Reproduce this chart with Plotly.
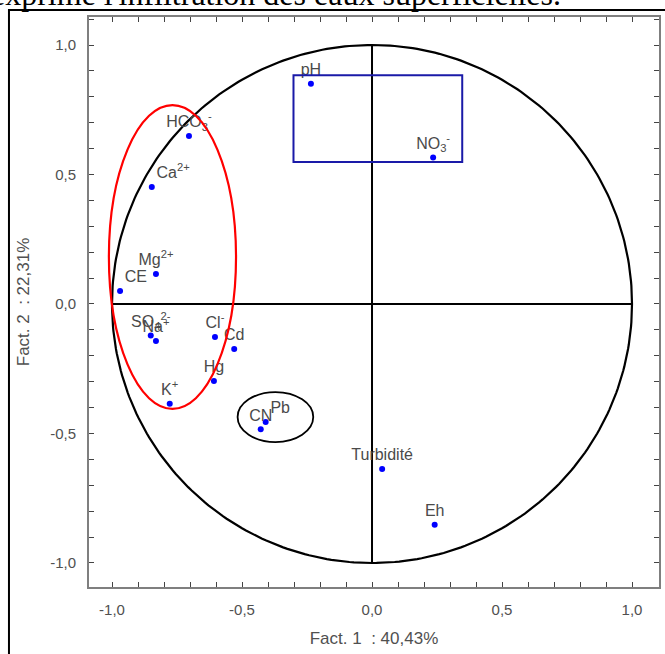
import numpy as np
import plotly.graph_objects as go

# ---- data ----
labels = ["pH", "NO<sub>3</sub><sup>-</sup>", "HCO<sub>3</sub><sup>-</sup>", "Ca<sup>2+</sup>",
          "Mg<sup>2+</sup>", "CE", "SO<sub>4</sub><sup>2-</sup>", "Na<sup>+</sup>",
          "Cl<sup>-</sup>", "Cd", "Hg", "K<sup>+</sup>", "CN", "Pb", "Turbidité", "Eh"]
fact1 = [-0.235, 0.235, -0.704, -0.847, -0.831, -0.969, -0.851, -0.831,
         -0.604, -0.530, -0.608, -0.778, -0.428, -0.409, 0.039, 0.241]
fact2 = [0.850, 0.566, 0.649, 0.452, 0.116, 0.050, -0.122, -0.143,
         -0.127, -0.174, -0.297, -0.385, -0.484, -0.456, -0.637, -0.852]
label_pos = ["top center", "top center", "top center", "top right", "top center",
             "top right", "top center", "top center", "top center", "top center",
             "top center", "top center", "top center", "top right", "top center",
             "top center"]

tick_vals = [-1.0, -0.5, 0.0, 0.5, 1.0]
tick_text = ["-1,0", "-0,5", "0,0", "0,5", "1,0"]

x_title = "Fact. 1\u00a0\u00a0: 40,43%"
y_title = "Fact. 2\u00a0\u00a0: 22,31%"
caption = "exprime l'infiltration des eaux superficielles."

fig = go.Figure()

# unit circle
theta = np.linspace(0, 2 * np.pi, 361)
fig.add_trace(go.Scatter(x=np.cos(theta), y=np.sin(theta), mode="lines",
                         line=dict(color="black", width=2.2), hoverinfo="skip",
                         showlegend=False))
# axes through origin
fig.add_trace(go.Scatter(x=[-1, 1], y=[0, 0], mode="lines",
                         line=dict(color="black", width=2), hoverinfo="skip", showlegend=False))
fig.add_trace(go.Scatter(x=[0, 0], y=[-1, 1], mode="lines",
                         line=dict(color="black", width=2), hoverinfo="skip", showlegend=False))

# variable points
fig.add_trace(go.Scatter(x=fact1, y=fact2, mode="markers+text", text=labels,
                         textposition=label_pos,
                         textfont=dict(family="Liberation Sans, Arial", size=16, color="#4a4a4a"),
                         marker=dict(color="#0000ff", size=6), showlegend=False))

# highlighting shapes
fig.add_shape(type="circle", xref="x", yref="y", x0=-1.012, x1=-0.523, y0=-0.405, y1=0.768,
              line=dict(color="#ff0000", width=2.2))
fig.add_shape(type="rect", xref="x", yref="y", x0=-0.302, x1=0.347, y0=0.548, y1=0.883,
              line=dict(color="#1a1aa8", width=2))
fig.add_shape(type="circle", xref="x", yref="y", x0=-0.517, x1=-0.226, y0=-0.533, y1=-0.340,
              line=dict(color="black", width=1.8))

# outer page frame
fig.add_shape(type="rect", xref="paper", yref="paper", x0=-0.1404, x1=1.3, y0=-0.3, y1=1.0123,
              line=dict(color="black", width=2), layer="below")

# cropped caption text at the top
fig.add_annotation(text=caption, xref="paper", yref="paper", x=-0.175, y=1.0045,
                   xanchor="left", yanchor="bottom", showarrow=False,
                   font=dict(family="Liberation Serif, Times New Roman", size=32, color="black"))

axis_common = dict(
    showgrid=False, zeroline=False, showline=True, linecolor="#7f7f7f", linewidth=2,
    mirror="allticks", ticks="inside", ticklen=5, tickwidth=1, tickcolor="#444",
    tickmode="array", tickvals=tick_vals, ticktext=tick_text, automargin=False,
    tickfont=dict(family="Liberation Sans, Arial", size=15, color="#505050"),
    minor=dict(dtick=0.1, tick0=0, ticks="inside", ticklen=5, tickwidth=1, tickcolor="#444"),
)

fig.update_layout(
    width=665, height=654,
    margin=dict(l=89, r=6, t=17, b=67),
    paper_bgcolor="white", plot_bgcolor="white",
    showlegend=False,
    xaxis=dict(range=[-1.0885, 1.1038], title=dict(text=x_title, standoff=15,
               font=dict(family="Liberation Sans, Arial", size=17, color="#505050")),
               ticklabelstandoff=8, **axis_common),
    yaxis=dict(range=[-1.0927, 1.1081], title=dict(text=y_title, standoff=16,
               font=dict(family="Liberation Sans, Arial", size=17, color="#505050")),
               ticklabelstandoff=8, **axis_common),
)

fig.write_html("out.html", config={"displayModeBar": False},
               post_script="document.body.style.margin='0';")
